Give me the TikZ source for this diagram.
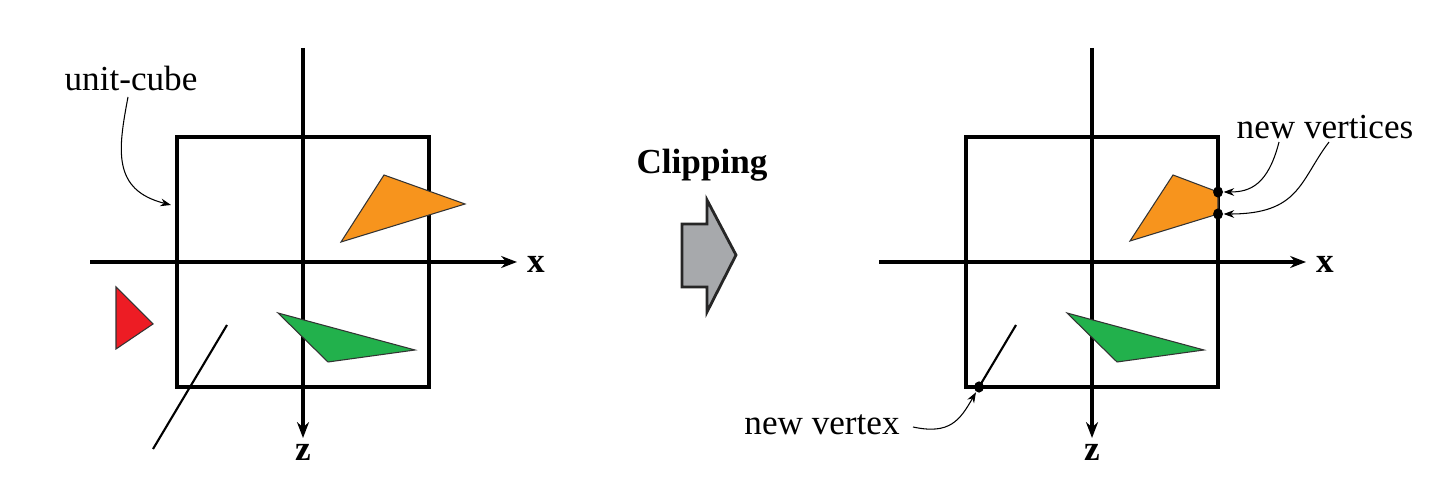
\documentclass[tikz,border=0pt]{standalone}
\usepackage{fontspec}
\setmainfont{Liberation Serif}
\usetikzlibrary{arrows.meta,positioning,shapes.geometric}
\definecolor{cliporange}{HTML}{F7941D}
\definecolor{clipgreen}{HTML}{22B14C}
\definecolor{clipred}{HTML}{ED1C24}
\definecolor{arrowgray}{HTML}{A7A9AC}
\begin{document}
\begin{tikzpicture}[
    x=0.1mm, y=-0.1mm,
    >=Stealth,
    axis/.style={line width=0.9pt, -{Stealth[length=4.5pt,width=3.4pt]}},
    cube/.style={line width=1.15pt},
    tri/.style={draw=black!80, line width=0.3pt},
    seg/.style={line width=0.6pt},
    pointer/.style={line width=0.3pt, ->, >={Stealth[length=3pt,width=2.2pt]}},
    vdot/.style={ellipse, fill=black, inner sep=0pt, minimum width=2.8pt, minimum height=3.2pt},
    lbl/.style={font=\fontsize{10}{12}\selectfont, inner sep=1pt},
    axlbl/.style={font=\fontsize{10}{12}\selectfont\bfseries, inner sep=1pt}
  ]
    \useasboundingbox (0,0) rectangle (1440,491);

    % left: before clipping
    \draw[cube] (177,137) rectangle (429,387);
    \draw[axis] (90,262) -- (517,262);
    \draw[axis] (303,48) -- (303,438);
    \node[axlbl] (xl) at (536,264) {x};
    \node[axlbl] (zl) at (303,452) {z};
    \filldraw[tri, fill=cliporange] (384,175) -- (465,204) -- (341,242) -- cycle;
    \filldraw[tri, fill=clipred] (116,287) -- (153,324) -- (116,349) -- cycle;
    \filldraw[tri, fill=clipgreen] (278,313) -- (415,350) -- (328,362) -- cycle;
    \draw[seg] (227,325) -- (153,449);
    \node[lbl] (cube) at (131,78) {unit-cube};
    \coordinate (cubetip) at (171,205);
    \draw[pointer] (128,97) .. controls (118,150) and (112,190) .. (cubetip);

    % middle: clipping arrow
    \node[font=\fontsize{10}{12}\selectfont\bfseries] (clip) at (702,165) {Clipping};
    \filldraw[draw=black!85, line width=0.8pt, fill=arrowgray]
      (682,224) -- (707,224) -- (707,200) -- (736,255) -- (707,312) -- (707,287) -- (682,287) -- cycle;

    % right: after clipping
    \draw[cube] (966,137) rectangle (1218,387);
    \draw[axis] (879,262) -- (1306,262);
    \draw[axis] (1092,48) -- (1092,438);
    \node[axlbl] (xr) at (1325,264) {x};
    \node[axlbl] (zr) at (1092,452) {z};
    \filldraw[tri, fill=cliporange] (1173,175) -- (1218,192) -- (1218,214) -- (1130,241) -- cycle;
    \filldraw[tri, fill=clipgreen] (1067,313) -- (1204,350) -- (1117,362) -- cycle;
    \draw[seg] (1016,325) -- (979,387);
    \node[vdot] (v1) at (1218,192) {};
    \node[vdot] (v2) at (1218,214) {};
    \node[vdot] (v3) at (979,387) {};
    \node[lbl] (verts) at (1325,127) {new vertices};
    \node[lbl] (vert) at (822,425) {new vertex};
    \draw[pointer] (1279,142) .. controls (1268,185) and (1250,192) .. (v1);
    \draw[pointer] (1329,142) .. controls (1300,180) and (1300,214) .. (v2);
    \draw[pointer] (913,427) .. controls (950,435) and (960,420) .. (v3);
  \end{tikzpicture}
\end{document}
